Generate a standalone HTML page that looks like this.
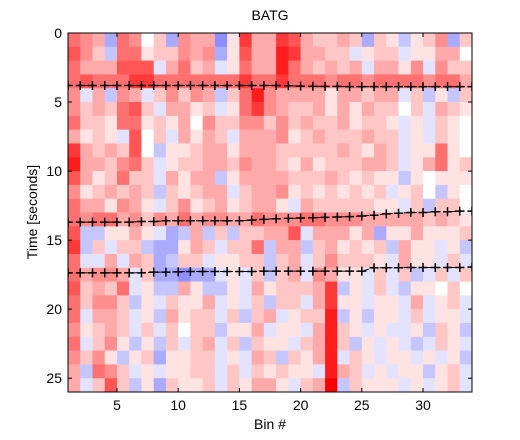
<!DOCTYPE html>
<html><head><meta charset="utf-8"><style>
body{margin:0;background:#fff;}
svg{display:block;font-family:"Liberation Sans",sans-serif;}
</style></head><body>
<svg id="chart" width="520" height="440"></svg>
<script>
// heatmap values: 26 rows (1 s each) x 33 bins; chars '0'-'9' => +0..+9, 'a'-'i' => -1..-9 (scale /9)
const heatRows = [
"543c5402c43"+"3d173376322"+"32c21b124c2",
"642b5512243"+"4c163387332"+"2a122a11330",
"5333666a352"+"3a153385323"+"23a3314a422",
"56555775555"+"55575575554"+"55455554553",
"4a3b43a2424"+"3b258433331"+"33233a2b1b2",
"4232562a331"+"2a157432231"+"3132202a321",
"52215512130"+"42244242322"+"31221a1a210",
"3121a602a31"+"32a33341232"+"22322a1a210",
"7323260b112"+"33133322222"+"32132a11510",
"8332452a122"+"33243321312"+"22332a13512",
"6312522a313"+"3b133332223"+"21211b10111",
"4123232b212"+"33a23341212"+"1212a120b10",
"5331431a241"+"2312331a322"+"22211a2b220",
"54553424353"+"44335444554"+"44333332321",
"6bb1131acb3"+"b2b22336a33"+"313c1131112",
"7b2a22bcc13"+"2a225b33b23"+"1212b311a1b",
"5aa3a32cb22"+"a1122b23a24"+"2221a311a2a",
"53443a2ccdc"+"ca1a2b23a43"+"11a2a2ba2a2",
"62325a1bb31"+"bb1a3122237"+"b1a2ab11020",
"52442b1a211"+"3a1a2b22a37"+"11a11a3a12a",
"5a332a1b312"+"2a2b23a1228"+"b1b11a2a11a",
"41232a2a202"+"2b113a11a38"+"21a1aa1b21b",
"5a241b1b2a2"+"3a2b211a238"+"2b1a1aba21a",
"4241b12c112"+"2a1a32b2138"+"a21a11a1a1b",
"3b542a1a112"+"2a2a21211a8"+"32a1a11b12a",
"3a262b1c211"+"2a21331a239"+"b2111a1a12a"
];
const markerBins = [1,2,3,4,5,6,7,8,9,10,11,12,13,14,15,16,17,18,19,20,21,22,23,24,25,26,27,28,29,30,31,32,33,34];
const line1Times = [3.8,3.8,3.8,3.8,3.8,3.8,3.8,3.8,3.8,3.8,3.8,3.8,3.8,3.8,3.8,3.8,3.8,3.8,3.82,3.85,3.86,3.87,3.87,3.88,3.88,3.88,3.88,3.88,3.88,3.88,3.88,3.88,3.88,3.88];
const line2Times = [13.7,13.7,13.7,13.7,13.7,13.7,13.65,13.65,13.6,13.6,13.6,13.6,13.6,13.6,13.6,13.55,13.5,13.45,13.43,13.4,13.38,13.35,13.33,13.3,13.25,13.2,13.1,13.05,13.0,13.0,12.95,12.95,12.9,12.9];
const line3Times = [17.37,17.37,17.37,17.37,17.37,17.37,17.37,17.32,17.32,17.3,17.27,17.27,17.27,17.27,17.27,17.27,17.25,17.25,17.25,17.25,17.25,17.25,17.25,17.25,17.25,17.0,17.0,17.0,16.98,16.98,16.98,16.98,16.98,16.95];
const xTicks = [5,10,15,20,25,30];
const yTicks = [0,5,10,15,20,25];

const L=68,R=472,T=33,B=392, X0=1,X1=34, Y0=0,Y1=26;
const sx=v=>L+(v-X0)/(X1-X0)*(R-L);
const sy=v=>T+(v-Y0)/(Y1-Y0)*(B-T);
const NS="http://www.w3.org/2000/svg";
const svg=document.getElementById('chart');
function mk(tag,attrs,parent){const e=document.createElementNS(NS,tag);for(const k in attrs)e.setAttribute(k,attrs[k]);(parent||svg).appendChild(e);return e;}
function val(c){const n=c.charCodeAt(0);return (n>=97?-(n-96):n-48)/9;}
function col(v){v=Math.max(-1,Math.min(1,v));if(v>=0){const g=Math.round(255*(1-v));return `rgb(255,${g},${g})`;}const g=Math.round(255*(1+v));return `rgb(${g},${g},255)`;}

const defs=mk('defs',{});
const cp=mk('clipPath',{id:'pc'},defs);
mk('rect',{x:L,y:T,width:R-L,height:B-T},cp);

const cells=mk('g',{'clip-path':'url(#pc)'});


heatRows.forEach((row,r)=>{
  for(let c=0;c<row.length;c++){
    const x=sx(1+c), x2=sx(2+c), y=sy(r), y2=sy(r+1);
    const e=mk('rect',{x:x,y:y,width:x2-x+0.4,height:y2-y+0.4,fill:col(val(row[c]))},cells);
    
    
  }
});

function drawLine(times,name){
  const g=mk('g',{'clip-path':'url(#pc)'});
  
  
  const pts=markerBins.map((b,i)=>sx(b)+','+sy(times[i])).join(' ');
  mk('polyline',{points:pts,fill:'none',stroke:'#000','stroke-width':1,'stroke-dasharray':'5,3'},g);
  markerBins.forEach((b,i)=>{
    const x=sx(b),y=sy(times[i]);
    const p=mk('path',{d:`M${x-4.5},${y}H${x+4.5}M${x},${y-4.5}V${y+4.5}`,stroke:'#000','stroke-width':1.5},g);
    
    
  });
}
drawLine(line1Times,'event-line-1');
drawLine(line2Times,'event-line-2');
drawLine(line3Times,'event-line-3');

const frame=mk('rect',{x:L,y:T,width:R-L,height:B-T,fill:'none',stroke:'#000','stroke-width':1});



xTicks.forEach(t=>{
  const x=sx(t);
  mk('path',{d:`M${x},${B}V${B-4}M${x},${T}V${T+4}`,stroke:'#000'});
  const e=mk('text',{x:x,y:B+18,'text-anchor':'middle','font-size':14});
  e.textContent=t;
  
  
});
yTicks.forEach(t=>{
  const y=sy(t);
  mk('path',{d:`M${L},${y}H${L+4}M${R},${y}H${R-4}`,stroke:'#000'});
  const e=mk('text',{x:L-6,y:y+5,'text-anchor':'end','font-size':14});
  e.textContent=t;
  
  
});
const ti=mk('text',{x:270,y:20,'text-anchor':'middle','font-size':14});
ti.textContent='BATG';


const xl=mk('text',{x:270,y:429,'text-anchor':'middle','font-size':14});
xl.textContent='Bin #';


const yl=mk('text',{x:37,y:212,'text-anchor':'middle','font-size':14,transform:'rotate(-90 37 212)'});
yl.textContent='Time [seconds]';


</script>
</body></html>
